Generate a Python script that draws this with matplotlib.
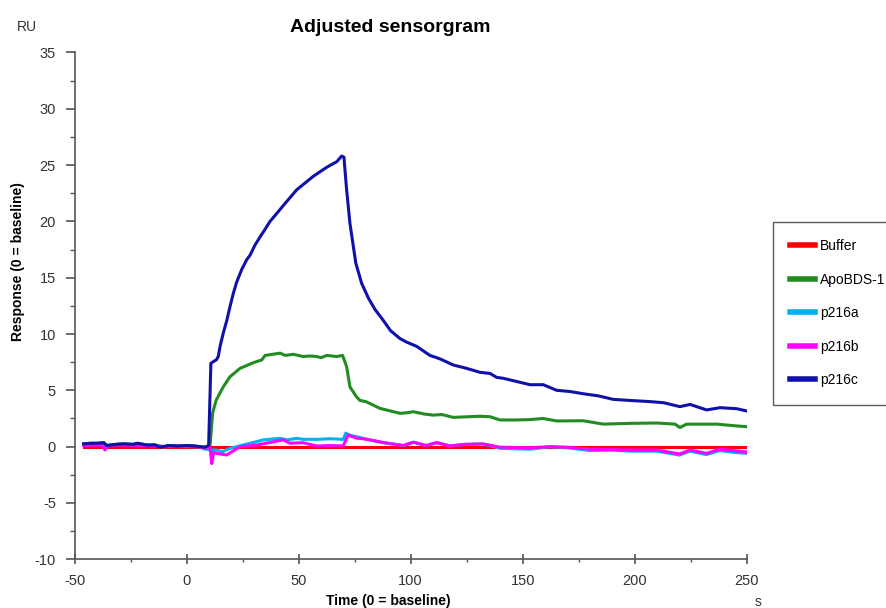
import matplotlib
matplotlib.use("Agg")
from matplotlib import pyplot as plt
from matplotlib.ticker import MultipleLocator

plt.rcParams['font.family'] = ['Liberation Sans', 'DejaVu Sans']
plt.rcParams['axes.unicode_minus'] = False

# series (time in s, response in RU)
t_buffer = [-46, 250]
y_buffer = [0, 0]

t_apo = [-46, -43, -40, -37, -35.7, -32, -28, -24, -22, -18, -14, -12, -8, -4, 0, 4, 8, 10.4,
         11.6, 13.1, 16.3, 19.3, 23.8, 29.7, 33.5, 35, 41.7, 44, 47.6, 52, 55, 58, 60, 62.5, 67, 69.6,
         71.4, 72.9, 75.9, 77.4, 80, 86.3, 95.2, 98, 101.2, 106, 110, 114, 119, 125, 131, 135.4,
         139.9, 147.3, 153, 159.2, 165.2, 177, 186, 197.9, 209.8, 218, 220.2, 223.2, 236.6, 245, 250]
y_apo = [0.25, 0.3, 0.3, 0.35, 0.1, 0.2, 0.25, 0.2, 0.3, 0.15, 0.15, -0.05, 0.1, 0.05, 0.1, 0.05, -0.05, 0.05,
         3.0, 4.1, 5.3, 6.2, 6.95, 7.45, 7.7, 8.1, 8.3, 8.1, 8.2, 8.0, 8.05, 8.0, 7.9, 8.1, 8.0, 8.1,
         7.1, 5.3, 4.4, 4.1, 4.0, 3.4, 2.96, 3.0, 3.1, 2.9, 2.8, 2.85, 2.6, 2.65, 2.7, 2.66,
         2.37, 2.37, 2.4, 2.5, 2.28, 2.3, 2.0, 2.07, 2.1, 2.0, 1.7, 2.0, 2.0, 1.85, 1.77]

t_a = [-46, -40, -36.5, -30, -22, -15, -10, -4, 0, 5, 8, 10.4, 13.4, 16, 19.3, 25.3, 34.2, 41.7, 45,
       49.1, 52, 58, 64, 69.9, 71, 73, 75.9, 77.4, 81.8, 87.8, 96.7, 101.2, 107, 111.6, 117.5, 124,
       132.4, 139.9, 153.3, 162.2, 170, 180, 190, 198, 210, 220, 224.7, 232, 238, 244, 250]
y_a = [0.2, 0.25, 0.1, 0.2, 0.2, 0.15, 0.0, 0.05, 0.0, 0.0, -0.2, -0.3, -0.3, -0.45, -0.15, 0.15, 0.6, 0.74, 0.6,
       0.74, 0.65, 0.65, 0.7, 0.65, 1.2, 1.0, 0.89, 0.8, 0.6, 0.36, 0.1, 0.39, 0.1, 0.36, 0.06, 0.2,
       0.24, -0.15, -0.23, 0.0, -0.1, -0.35, -0.3, -0.4, -0.4, -0.75, -0.4, -0.7, -0.35, -0.5, -0.6]

t_b = [-46, -40, -37.5, -36.5, -35, -30, -22, -15, -10, -4, 0, 5, 8, 10.4, 11.2, 12, 13.4, 17.9, 23.8,
       31.3, 38, 43.1, 46.1, 52, 58, 64, 69.9, 72.1, 75.9, 77.4, 81.8, 87.8, 96.7, 101.2, 107, 111.6,
       117.5, 124, 132.4, 139.9, 153.3, 162.2, 170, 180, 198, 210, 220, 224.7, 232, 238, 250]
y_b = [0.1, 0.15, 0.1, -0.3, 0.1, 0.15, 0.1, 0.1, 0.0, 0.05, 0.05, 0.0, -0.1, 0.0, -1.5, -0.5, -0.6, -0.74, 0.0,
       0.15, 0.4, 0.6, 0.3, 0.35, 0.06, 0.1, 0.06, 1.04, 0.74, 0.74, 0.6, 0.36, 0.1, 0.39, 0.1, 0.36,
       0.06, 0.2, 0.24, -0.05, -0.1, 0.0, -0.05, -0.23, -0.3, -0.3, -0.65, -0.3, -0.6, -0.23, -0.47]

t_c = [-46, -43, -40, -37, -35.7, -32, -28, -24, -22, -18, -14, -12, -8, -4, 0, 4, 8, 9.8,
       10.8, 12.3, 13.2, 14.1, 14.9, 16.3, 17.9, 19.3, 20.8, 22.3, 24.5, 26.8, 28.3, 30.5, 32.7, 35,
       37.2, 40.2, 43.1, 46.1, 49.1, 52.8, 56.5, 59.5, 62.5, 67, 69.2, 70.2,
       71.4, 72.9, 75.5, 78.1, 81.1, 84, 87.8, 91, 95.2, 98, 102.7, 108.6, 113, 119, 125, 130.9,
       135.4, 138.4, 141.3, 147, 153.3, 159.2, 165.2, 171, 177, 184, 190.4, 198, 206.8, 213, 220.2,
       224.7, 232.1, 238.1, 245.5, 250]
y_c = [0.25, 0.3, 0.3, 0.35, 0.1, 0.2, 0.25, 0.2, 0.3, 0.15, 0.15, -0.05, 0.1, 0.05, 0.1, 0.05, -0.05, 0.1,
       7.4, 7.6, 7.7, 8.0, 8.9, 10.06, 11.2, 12.4, 13.6, 14.6, 15.7, 16.6, 17.0, 17.9, 18.6, 19.3,
       20.0, 20.7, 21.4, 22.1, 22.8, 23.4, 24.0, 24.4, 24.8, 25.3, 25.8, 25.7,
       22.8, 19.8, 16.3, 14.5, 13.2, 12.2, 11.2, 10.3, 9.6, 9.3, 8.9, 8.1, 7.8, 7.25, 6.95, 6.6,
       6.5, 6.15, 6.07, 5.8, 5.5, 5.5, 5.0, 4.9, 4.7, 4.5, 4.2, 4.1, 4.0, 3.9, 3.55,
       3.75, 3.26, 3.46, 3.37, 3.17]

fig = plt.figure(figsize=(8.87, 6.08), dpi=100)
ax = fig.add_axes([0.0842, 0.0801, 0.7576, 0.8337])

lw = 2.2
ax.plot(t_buffer, y_buffer, c="#ff0000", lw=lw, label="Buffer")
ax.plot(t_apo, y_apo, c="#228b22", lw=lw, label="ApoBDS-1")
ax.plot(t_a, y_a, c="#00b0f0", lw=lw, label="p216a")
ax.plot(t_b, y_b, c="#ff00ff", lw=lw, label="p216b")
ax.plot(t_c, y_c, c="#1010aa", lw=lw, label="p216c")

ax.set_xlim(-50, 250)
ax.set_ylim(-10, 35)
ax.xaxis.set_major_locator(MultipleLocator(50))
ax.xaxis.set_minor_locator(MultipleLocator(25))
ax.yaxis.set_major_locator(MultipleLocator(5))
ax.yaxis.set_minor_locator(MultipleLocator(2.5))

for side in ("top", "right"):
    ax.spines[side].set_visible(False)
for side in ("left", "bottom"):
    ax.spines[side].set_color("#555555")
    ax.spines[side].set_linewidth(1.2)

ax.tick_params(axis="x", which="major", direction="inout", length=7, width=1.2,
               color="#555555", labelsize=10.5, labelcolor="#333333", pad=7)
ax.tick_params(axis="x", which="minor", direction="out", length=2.5, width=1, color="#555555")
ax.tick_params(axis="y", which="major", direction="out", length=6.5, width=1.2,
               color="#555555", labelsize=10.5, labelcolor="#333333", pad=7)
ax.tick_params(axis="y", which="minor", direction="out", length=3.5, width=1, color="#555555")

fig.text(390 / 887, 1 - 27 / 608, "Adjusted sensorgram", ha="center", va="center",
         fontsize=14, fontweight="bold")
fig.text(27 / 887, 1 - 27 / 608, "RU", ha="center", va="center", fontsize=10, color="#333333")
fig.text(758 / 887, 1 - 602 / 608, "s", ha="center", va="center", fontsize=10, color="#333333")
fig.text(388 / 887, 1 - 601 / 608, "Time (0 = baseline)", ha="center", va="center",
         fontsize=10, fontweight="bold")
fig.text(18 / 887, 1 - 262 / 608, "Response (0 = baseline)", ha="center", va="center",
         rotation=90, fontsize=10, fontweight="bold")

leg = fig.legend(loc="upper left", bbox_to_anchor=(773 / 887, 1 - 222 / 608),
                 fontsize=10, frameon=True, fancybox=False, edgecolor="#333333",
                 handlelength=1.8, handletextpad=0.35, labelspacing=1.4, borderpad=1.25,
                 borderaxespad=0)
leg.get_frame().set_linewidth(1.0)
for h in leg.get_lines():
    h.set_linewidth(4)

fig.savefig("out.png", dpi=100)
